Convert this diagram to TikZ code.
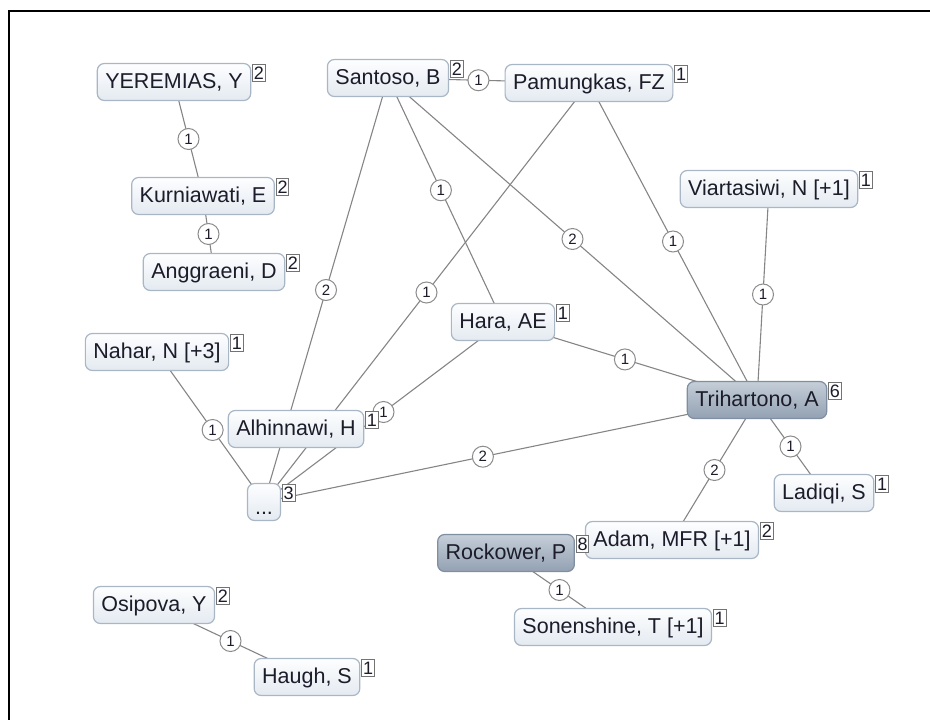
\documentclass[tikz,border=0pt]{standalone}
\usepackage{fontspec}
\setmainfont{Liberation Sans}
\usetikzlibrary{backgrounds}
\definecolor{txt}{HTML}{1C1C2A}
\definecolor{nborder}{HTML}{A8B6C6}
\definecolor{ntop}{HTML}{FDFEFF}
\definecolor{nbot}{HTML}{E4EAF1}
\definecolor{dtop}{HTML}{C5CED9}
\definecolor{dbot}{HTML}{93A1B2}
\definecolor{dborder}{HTML}{7F8EA0}
\definecolor{edgec}{HTML}{858585}
\tikzset{
  person/.style={draw=nborder, line width=1.2pt, rounded corners=7pt,
    top color=ntop, bottom color=nbot, text=txt,
    font=\fontsize{21.5}{25}\selectfont, inner xsep=8pt, inner ysep=0pt,
    minimum height=37pt, text height=16pt, text depth=4pt},
  dark/.style={person, draw=dborder, top color=dtop, bottom color=dbot},
  badge/.style={draw=black!55, fill=white, line width=0.8pt, text=txt,
    font=\fontsize{18}{20}\selectfont, inner xsep=1.2pt, inner ysep=1.5pt,
    text height=13pt, text depth=1pt, anchor=south west},
  edge/.style={draw=edgec, line width=1.1pt},
  elab/.style={circle, draw=black!45, fill=white, line width=1pt, text=txt,
    font=\fontsize{15}{16}\selectfont, inner sep=0pt, minimum size=21pt}
}
\begin{document}
\begin{tikzpicture}[x=1pt, y=-1pt]
\useasboundingbox (0,0) rectangle (930,720);
\draw[line width=2.5pt, black] (9,721) -- (9,11) -- (931,11);

% nodes
\node[person] (ye) at (174,82) {YEREMIAS, Y};
\node[person] (ku) at (203,196) {Kurniawati, E};
\node[person] (an) at (214,272) {Anggraeni, D};
\node[person] (sa) at (388,78) {Santoso, B};
\node[person] (pa) at (589,83) {Pamungkas, FZ};
\node[person] (vi) at (769,189) {Viartasiwi, N [+1]};
\node[person] (ha) at (503,322) {Hara, AE};
\node[person] (na) at (157,352) {Nahar, N [+3]};
\node[person] (al) at (296,429) {Alhinnawi, H};
\node[person, minimum width=33pt, inner xsep=2pt] (dd) at (264,502) {\raisebox{-6pt}{...}};
\node[dark] (tr) at (757,400) {Trihartono, A};
\node[person] (la) at (824,493) {Ladiqi, S};
\node[person] (ad) at (672,540) {Adam, MFR [+1]};
\node[dark] (ro) at (506,553) {Rockower, P};
\node[person] (so) at (613,627) {Sonenshine, T [+1]};
\node[person] (os) at (154,605) {Osipova, Y};
\node[person] (hg) at (307,677) {Haugh, S};

% badges
\foreach \n/\v in {ye/2,ku/2,an/2,sa/2,pa/1,vi/1,ha/1,na/1,al/1,dd/3,tr/6,la/1,ad/2,ro/8,so/1,os/2,hg/1}{
  \node[badge] (b\n) at ([shift={(1pt,0pt)}]\n.east) {\v};
}

% edges
\begin{scope}[on background layer]
\draw[edge] (ye.center) -- node[elab]{1} (ku.center);
\draw[edge] (ku.center) -- node[elab]{1} (an.center);
\draw[edge] (sa.center) -- node[elab, pos=0.45]{1} (pa.center);
\draw[edge] (sa.center) -- node[elab]{2} (dd.center);
\draw[edge] (sa.center) -- node[elab, pos=0.46]{1} (ha.center);
\draw[edge] (sa.center) -- node[elab]{2} (tr.center);
\draw[edge] (pa.center) -- node[elab]{1} (dd.center);
\draw[edge] (pa.center) -- node[elab]{1} (tr.center);
\draw[edge] (vi.center) -- node[elab]{1} (tr.center);
\draw[edge] (ha.center) -- node[elab, pos=0.48]{1} (tr.center);
\draw[edge] (ha.center) -- node[elab]{1} (dd.center);
\draw[edge] (na.center) -- node[elab, pos=0.52]{1} (dd.center);
\draw[edge] (dd.center) -- node[elab, pos=0.444]{2} (tr.center);
\draw[edge] (tr.center) -- node[elab]{1} (la.center);
\draw[edge] (tr.center) -- node[elab]{2} (ad.center);
\draw[edge] (ro.center) -- node[elab]{1} (so.center);
\draw[edge] (os.center) -- node[elab]{1} (hg.center);
\end{scope}
\end{tikzpicture}
\end{document}
